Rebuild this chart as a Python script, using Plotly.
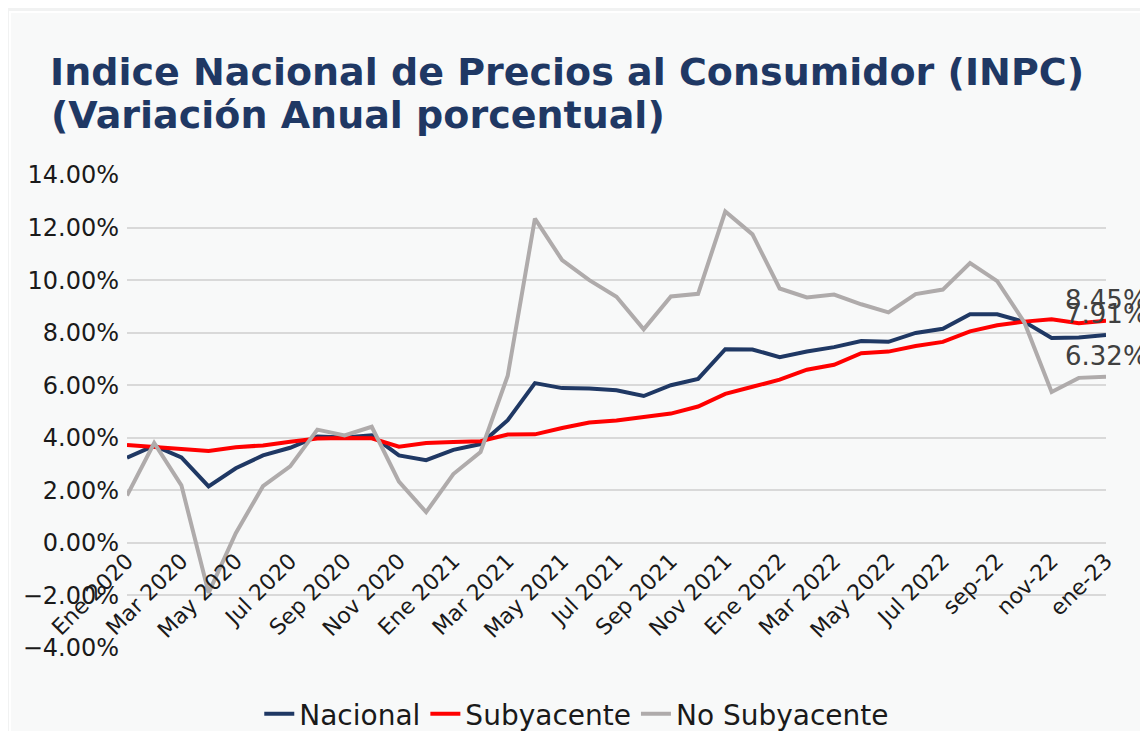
import plotly.graph_objects as go

months = ["Ene 2020", "Feb 2020", "Mar 2020", "Abr 2020", "May 2020", "Jun 2020",
          "Jul 2020", "Ago 2020", "Sep 2020", "Oct 2020", "Nov 2020", "Dic 2020",
          "Ene 2021", "Feb 2021", "Mar 2021", "Abr 2021", "May 2021", "Jun 2021",
          "Jul 2021", "Ago 2021", "Sep 2021", "Oct 2021", "Nov 2021", "Dic 2021",
          "Ene 2022", "Feb 2022", "Mar 2022", "Abr 2022", "May 2022", "Jun 2022",
          "Jul 2022", "Ago 2022", "sep-22", "oct-22", "nov-22", "dic-22", "ene-23"]

nacional = [3.24, 3.70, 3.25, 2.15, 2.84, 3.33, 3.62, 4.05, 4.01, 4.09, 3.33, 3.15,
            3.54, 3.76, 4.67, 6.08, 5.89, 5.88, 5.81, 5.59, 6.00, 6.24, 7.37, 7.36,
            7.07, 7.28, 7.45, 7.68, 7.65, 7.99, 8.15, 8.70, 8.70, 8.41, 7.80, 7.82, 7.91]

subyacente = [3.73, 3.66, 3.60, 3.50, 3.64, 3.71, 3.85, 3.97, 3.99, 3.98, 3.66, 3.80,
              3.84, 3.87, 4.12, 4.13, 4.37, 4.58, 4.66, 4.78, 4.92, 5.19, 5.67, 5.94,
              6.21, 6.59, 6.78, 7.22, 7.28, 7.49, 7.65, 8.05, 8.28, 8.42, 8.51, 8.36, 8.45]

no_subyacente = [1.80, 3.80, 2.19, -1.90, 0.37, 2.16, 2.91, 4.31, 4.09, 4.42, 2.33, 1.17,
                 2.62, 3.46, 6.36, 12.34, 10.76, 10.00, 9.37, 8.13, 9.38, 9.48, 12.61, 11.74,
                 9.68, 9.34, 9.45, 9.08, 8.77, 9.47, 9.64, 10.65, 9.96, 8.39, 5.74, 6.28, 6.32]

series = [("Nacional", nacional, "#1F3864"),
          ("Subyacente", subyacente, "#FF0000"),
          ("No Subyacente", no_subyacente, "#AFABAB")]

title_line1 = "Indice Nacional de Precios al Consumidor (INPC)"
title_line2 = "(Variación Anual porcentual)"

tick_idx = list(range(0, len(months), 2))
tick_text = [months[i] for i in tick_idx]
x_idx = list(range(len(months)))

Y_MIN, Y_MAX = -4, 14

# page has an 8px body margin: figure coords = screen coords - 8
OFF = 8
W, H = 1148 - OFF, 731 - OFF
L, R, T, B = 127 - OFF, 1106.5 - OFF, 175 - OFF, 648 - OFF


def px_x(p):
    return (p - OFF - L) / (R - L)


def px_y(p):
    return (B - (p - OFF)) / (B - T)


fig = go.Figure()
for name, vals, color in series:
    fig.add_trace(go.Scatter(
        x=x_idx, y=vals, name=name, mode="lines",
        line=dict(color=color, width=4),
    ))
    fig.add_annotation(
        x=x_idx[-1], y=vals[-1], xref="x", yref="y",
        text=f"{vals[-1]:.2f}%", showarrow=False,
        xanchor="center", yanchor="middle", yshift=21,
        font=dict(family="DejaVu Sans", size=26, color="#404040"),
    )

fig.add_annotation(
    x=px_x(49), y=px_y(91), xref="paper", yref="paper",
    xanchor="left", yanchor="top", showarrow=False,
    text=f"<b>{title_line2}</b>",
    font=dict(family="DejaVu Sans", size=38, color="#1F3864"),
)

fig.add_shape(type="rect", xref="paper", yref="paper",
              x0=px_x(10), x1=px_x(1160), y0=px_y(760), y1=px_y(12),
              fillcolor="#f8f9f9", line=dict(color="#ffffff", width=2), layer="below")

fig.update_layout(
    width=W, height=H,
    margin=dict(l=L, r=W - R, t=T, b=H - B, autoexpand=False),
    paper_bgcolor="#f1f2f2",
    plot_bgcolor="rgba(0,0,0,0)",
    font=dict(family="DejaVu Sans", color="#1a1a1a"),
    title=dict(
        text=f"<b>{title_line1}</b>",
        x=42 / W, xanchor="left", xref="container",
        y=1 - 50 / H, yanchor="top", yref="container",
        font=dict(family="DejaVu Sans", size=38, color="#1F3864"),
    ),
    xaxis=dict(
        range=[0, len(months) - 1], automargin=False,
        anchor="free", position=(0 - Y_MIN) / (Y_MAX - Y_MIN),
        tickmode="array", tickvals=tick_idx, ticktext=tick_text,
        tickangle=-45, tickfont=dict(size=22, color="#1a1a1a"),
        showgrid=False, zeroline=False, showline=False, ticks="",
    ),
    yaxis=dict(
        range=[Y_MIN, Y_MAX], dtick=2, tickformat=".2f", ticksuffix="%", automargin=False,
        tickfont=dict(size=24, color="#1a1a1a"), ticklabelstandoff=7,
        showgrid=True, gridcolor="#d9d9d9", gridwidth=1.5,
        zeroline=False, showline=False, ticks="",
    ),
    legend=dict(
        orientation="h", x=px_x(577), xanchor="center",
        y=px_y(714), yanchor="middle",
        font=dict(size=28, color="#1a1a1a"),
        bgcolor="rgba(0,0,0,0)",
    ),
    showlegend=True,
)

fig.write_html("out.html")
